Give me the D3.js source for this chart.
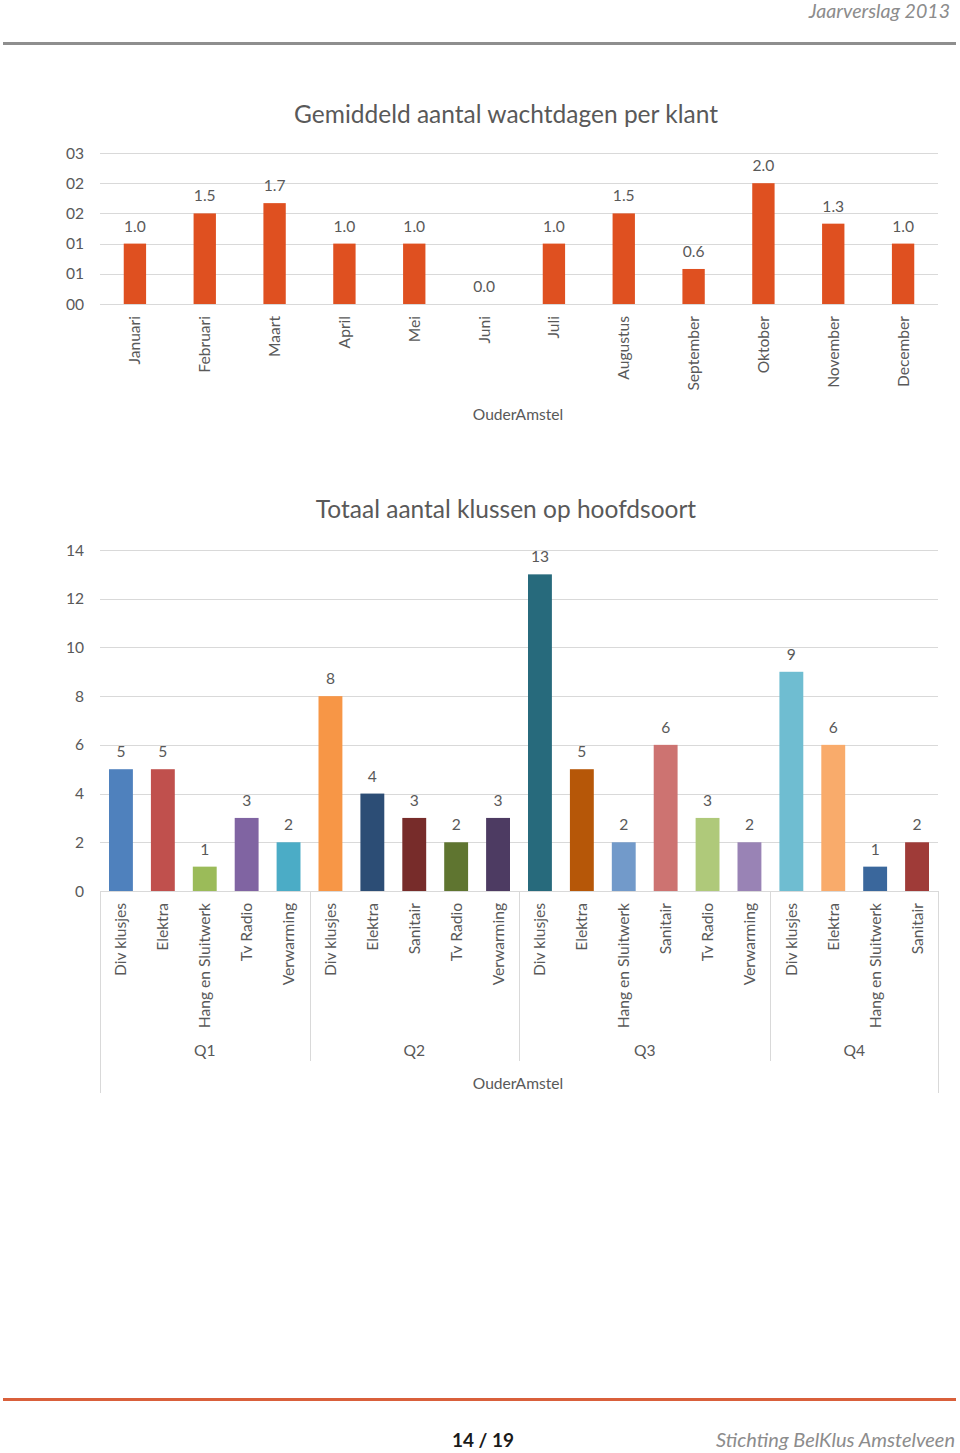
<!DOCTYPE html>
<html><head><meta charset="utf-8">
<script src="https://cdn.jsdelivr.net/npm/d3@7"></script>
<style>body{margin:0;background:#fff}svg{display:block}</style>
</head><body>
<svg id="c" width="960" height="1453"></svg>
<script>
// ---- data ----
const months = ["Januari","Februari","Maart","April","Mei","Juni","Juli","Augustus","September","Oktober","November","December"];
const wachtdagen = [1.0,1.5,1.67,1.0,1.0,0.0,1.0,1.5,0.58,2.0,1.33,1.0];
const yTicks1 = [0,0.5,1,1.5,2,2.5];
const yTickLabels1 = ["00","01","01","02","02","03"];

const quarters = ["Q1","Q2","Q3","Q4"];
const soorten = [
  ["Div klusjes","Elektra","Hang en Sluitwerk","Tv Radio","Verwarming"],
  ["Div klusjes","Elektra","Sanitair","Tv Radio","Verwarming"],
  ["Div klusjes","Elektra","Hang en Sluitwerk","Sanitair","Tv Radio","Verwarming"],
  ["Div klusjes","Elektra","Hang en Sluitwerk","Sanitair"]
];
const klussen = [
  [5,5,1,3,2],
  [8,4,3,2,3],
  [13,5,2,6,3,2],
  [9,6,1,2]
];
const yTicks2 = [0,2,4,6,8,10,12,14];
const barColors = ["#4F81BD","#C0504D","#9BBB59","#8064A2","#4BACC6","#F79646","#2C4D75","#772C2A","#5F7530","#4D3B62","#276A7C","#B65708","#729ACA","#CD7371","#AFC97A","#9983B5","#6FBDD1","#F9AB6B","#3A679C","#9F3B38"];

const svg = d3.select("#c");
const FONT = "Lato, 'Open Sans', sans-serif";
const TXT = "#595959";
const GRID = "#D9D9D9";
const FS = 15.6;

// ---- header / footer ----
svg.append("text").attr("x",950).attr("y",18).attr("text-anchor","end")
  .attr("font-family",FONT).attr("font-style","italic").attr("font-size",19.6)
  .attr("fill","#8C8C8C").text("Jaarverslag 2013");
svg.append("rect").attr("x",3).attr("y",42).attr("width",953).attr("height",3).attr("fill","#8E8E8E");
svg.append("rect").attr("x",3).attr("y",1398).attr("width",953).attr("height",3).attr("fill","#D9603B");
svg.append("text").attr("x",483).attr("y",1447).attr("text-anchor","middle")
  .attr("font-family",FONT).attr("font-weight","bold").attr("font-size",19)
  .attr("fill","#1a1a1a").text("14 / 19");
svg.append("text").attr("x",955).attr("y",1447).attr("text-anchor","end")
  .attr("font-family",FONT).attr("font-style","italic").attr("font-size",20)
  .attr("fill","#8C8C8C").text("Stichting BelKlus Amstelveen");

// ---- chart 1 ----
{
  const L=100,R=938,T=153,B=304;
  const x = d3.scaleBand().domain(months).range([L,R]).paddingInner(0.68).paddingOuter(0.34);
  const y = d3.scaleLinear().domain([0,2.5]).range([B,T]);
  svg.append("text").attr("x",506).attr("y",123).attr("text-anchor","middle")
    .attr("font-family",FONT).attr("font-size",24.5).attr("fill",TXT)
    .text("Gemiddeld aantal wachtdagen per klant");
  const g = svg.append("g");
  g.selectAll("line.grid").data(yTicks1).join("line")
    .attr("x1",L).attr("x2",R).attr("y1",d=>Math.round(y(d))+0.5).attr("y2",d=>Math.round(y(d))+0.5)
    .attr("stroke",GRID).attr("stroke-width",1);
  g.selectAll("text.yt").data(yTicks1).join("text")
    .attr("x",84).attr("y",d=>y(d)+5.5).attr("text-anchor","end")
    .attr("font-family",FONT).attr("font-size",FS).attr("fill",TXT)
    .text((d,i)=>yTickLabels1[i]);
  g.selectAll("rect.bar").data(wachtdagen).join("rect")
    .attr("x",(d,i)=>x(months[i])).attr("width",x.bandwidth())
    .attr("y",d=>y(d)).attr("height",d=>B-y(d)).attr("fill","#DF5020");
  g.selectAll("text.lbl").data(wachtdagen).join("text")
    .attr("x",(d,i)=>x(months[i])+x.bandwidth()/2).attr("y",d=>y(d)-12)
    .attr("text-anchor","middle").attr("font-family",FONT).attr("font-size",FS).attr("fill",TXT)
    .text(d=>d3.format(".1f")(d));
  g.selectAll("text.cat").data(months).join("text")
    .attr("transform",d=>`translate(${x(d)+x.bandwidth()/2+5.5},316) rotate(-90)`)
    .attr("text-anchor","end").attr("font-family",FONT).attr("font-size",FS).attr("fill",TXT)
    .text(d=>d);
  svg.append("text").attr("x",518).attr("y",420).attr("text-anchor","middle")
    .attr("font-family",FONT).attr("font-size",FS).attr("fill",TXT).text("OuderAmstel");
}

// ---- chart 2 ----
{
  const L=100,R=938,T=550,B=891;
  const flat=[];
  soorten.forEach((arr,qi)=>arr.forEach((s,si)=>flat.push({q:quarters[qi],s:s,v:klussen[qi][si],key:qi+"-"+si})));
  const x = d3.scaleBand().domain(flat.map(d=>d.key)).range([L,R]).paddingInner(0.43).paddingOuter(0.215);
  const y = d3.scaleLinear().domain([0,14]).range([B,T]);
  svg.append("text").attr("x",506).attr("y",518).attr("text-anchor","middle")
    .attr("font-family",FONT).attr("font-size",24.5).attr("fill",TXT)
    .text("Totaal aantal klussen op hoofdsoort");
  const g = svg.append("g");
  g.selectAll("line.grid").data(yTicks2).join("line")
    .attr("x1",L).attr("x2",R).attr("y1",d=>Math.round(y(d))+0.5).attr("y2",d=>Math.round(y(d))+0.5)
    .attr("stroke",GRID).attr("stroke-width",1);
  g.selectAll("text.yt").data(yTicks2).join("text")
    .attr("x",84).attr("y",d=>y(d)+5.5).attr("text-anchor","end")
    .attr("font-family",FONT).attr("font-size",FS).attr("fill",TXT).text(d=>d);
  g.selectAll("rect.bar").data(flat).join("rect")
    .attr("x",d=>x(d.key)).attr("width",x.bandwidth())
    .attr("y",d=>y(d.v)).attr("height",d=>B-y(d.v)).attr("fill",(d,i)=>barColors[i]);
  g.selectAll("text.lbl").data(flat).join("text")
    .attr("x",d=>x(d.key)+x.bandwidth()/2).attr("y",d=>y(d.v)-12)
    .attr("text-anchor","middle").attr("font-family",FONT).attr("font-size",FS).attr("fill",TXT)
    .text(d=>d.v);
  g.selectAll("text.cat").data(flat).join("text")
    .attr("transform",d=>`translate(${x(d.key)+x.bandwidth()/2+5.5},903) rotate(-90)`)
    .attr("text-anchor","end").attr("font-family",FONT).attr("font-size",FS).attr("fill",TXT)
    .text(d=>d.s);
  // group separators
  const step = x.step();
  let idx=0; const bounds=[L];
  soorten.forEach(arr=>{idx+=arr.length; bounds.push(L+idx*step);});
  bounds.forEach((bx,i)=>{
    const outer = (i===0||i===bounds.length-1);
    g.append("line").attr("x1",Math.round(bx)+0.5).attr("x2",Math.round(bx)+0.5)
      .attr("y1",B).attr("y2",outer?1093:1061).attr("stroke",GRID).attr("stroke-width",1);
  });
  quarters.forEach((q,i)=>{
    g.append("text").attr("x",(bounds[i]+bounds[i+1])/2).attr("y",1056).attr("text-anchor","middle")
      .attr("font-family",FONT).attr("font-size",FS).attr("fill",TXT).text(q);
  });
  svg.append("text").attr("x",518).attr("y",1089).attr("text-anchor","middle")
    .attr("font-family",FONT).attr("font-size",FS).attr("fill",TXT).text("OuderAmstel");
}
</script>
</body></html>
